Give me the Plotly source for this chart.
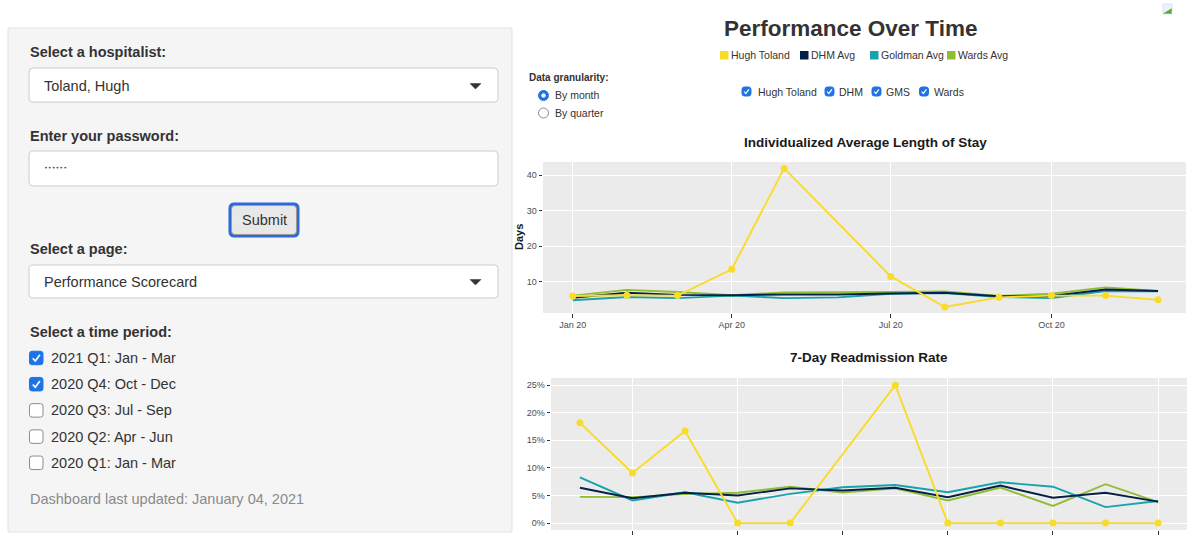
import plotly.graph_objects as go

# ---------------- data ----------------
months = ["2020-01-01", "2020-02-01", "2020-03-01", "2020-04-01", "2020-05-01", "2020-06-01",
          "2020-07-01", "2020-08-01", "2020-09-01", "2020-10-01", "2020-11-01", "2020-12-01"]
month_num = [1, 2, 3, 4, 5, 6, 7, 8, 9, 10, 11, 12]

series_names = ["Hugh Toland", "DHM Avg", "Goldman Avg", "Wards Avg"]
series_colors = ["#F9DB2A", "#052049", "#18A3AC", "#90BD31"]

# Individualized Average Length of Stay (days)
los_toland = [6.0, 6.2, 6.1, 13.5, 41.9, None, 11.5, 2.9, 5.6, 6.1, 6.1, 4.9]
los_dhm = [5.5, 6.9, 6.3, 6.2, 6.4, 6.4, 6.7, 6.9, 5.9, 6.0, 7.8, 7.4]
los_goldman = [4.8, 5.7, 5.4, 6.1, 5.4, 5.6, 6.6, 6.8, 5.7, 5.4, 7.4, 7.3]
los_wards = [6.1, 7.7, 7.1, 6.2, 7.0, 7.0, 7.1, 7.3, 6.0, 6.6, 8.4, 7.4]

# 7-Day Readmission Rate (%)
readm_toland = [18.2, 9.1, 16.7, 0.0, 0.0, None, 25.0, 0.0, 0.0, 0.0, 0.0, 0.0]
readm_dhm = [6.4, 4.5, 5.5, 5.0, 6.3, 5.9, 6.4, 4.7, 6.8, 4.6, 5.5, 3.9]
readm_goldman = [8.3, 4.1, 5.6, 3.7, 5.3, 6.5, 6.9, 5.6, 7.4, 6.6, 2.9, 4.0]
readm_wards = [4.75, 4.7, 5.25, 5.5, 6.6, 5.55, 6.3, 4.1, 6.45, 3.1, 7.05, 3.8]

los_ticks = ["2020-01-01", "2020-04-01", "2020-07-01", "2020-10-01"]
los_ticktext = ["Jan 20", "Apr 20", "Jul 20", "Oct 20"]
los_yticks = [10, 20, 30, 40]
readm_yticks = [0, 5, 10, 15, 20, 25]
readm_yticktext = ["0%", "5%", "10%", "15%", "20%", "25%"]
readm_xticks = [2, 4, 6, 8, 10, 12]

hospitalists = "Toland, Hugh"
page_name = "Performance Scorecard"
periods = ["2021 Q1: Jan - Mar", "2020 Q4: Oct - Dec", "2020 Q3: Jul - Sep",
           "2020 Q2: Apr - Jun", "2020 Q1: Jan - Mar"]
periods_checked = [True, True, False, False, False]
group_boxes = ["Hugh Toland", "DHM", "GMS", "Wards"]

# ---------------- helpers ----------------
W, H = 1200, 540
FONT = "Liberation Sans, Arial, Helvetica, sans-serif"


def px(x):
    return x / W


def py(y):
    return 1 - y / H


shapes = []
annotations = []


def text(x, y, s, size=14, color="#333333", bold=False, anchor="left", font=FONT):
    annotations.append(dict(
        x=px(x), y=py(y), xref="paper", yref="paper", text=("<b>%s</b>" % s) if bold else s,
        showarrow=False, xanchor=anchor, yanchor="middle", borderpad=0,
        font=dict(size=size, color=color, family=font)))


def rrect(x0, y0, x1, y1, r, fill, line, lw=1):
    def P(a, b):
        return "%.5f,%.5f" % (px(a), py(b))
    d = ("M %s L %s Q %s %s L %s Q %s %s L %s Q %s %s L %s Q %s %s Z" % (
        P(x0 + r, y0), P(x1 - r, y0), P(x1, y0), P(x1, y0 + r), P(x1, y1 - r),
        P(x1, y1), P(x1 - r, y1), P(x0 + r, y1), P(x0, y1), P(x0, y1 - r),
        P(x0, y0 + r), P(x0, y0), P(x0 + r, y0)))
    shapes.append(dict(type="path", path=d, xref="paper", yref="paper",
                       fillcolor=fill, line=dict(color=line, width=lw), layer="below"))


def poly(points, fill=None, line="#000", lw=1, closed=False):
    d = "M " + " L ".join("%.5f,%.5f" % (px(a), py(b)) for a, b in points)
    if closed:
        d += " Z"
    shapes.append(dict(type="path", path=d, xref="paper", yref="paper",
                       fillcolor=fill if fill else "rgba(0,0,0,0)",
                       line=dict(color=line, width=lw), layer="above"))


def checkbox(x, y, s, checked):
    if checked:
        rrect(x, y - s / 2, x + s, y + s / 2, 2.5, "#1F73E8", "#1F73E8", 1)
        poly([(x + 0.24 * s, y + 0.02 * s), (x + 0.43 * s, y + 0.22 * s),
              (x + 0.77 * s, y - 0.24 * s)], line="white", lw=max(1.2, s / 8))
    else:
        rrect(x, y - s / 2, x + s, y + s / 2, 2.5, "white", "#8C8C8C", 1)


def circle(cx, cy, r, fill, line, lw=1):
    shapes.append(dict(type="circle", xref="paper", yref="paper",
                       x0=px(cx - r), x1=px(cx + r), y0=py(cy + r), y1=py(cy - r),
                       fillcolor=fill, line=dict(color=line, width=lw), layer="above"))


# ---------------- left control panel ----------------
shapes.append(dict(type="rect", xref="paper", yref="paper", x0=px(8), x1=px(512),
                   y0=py(532), y1=py(28), fillcolor="#F5F5F5",
                   line=dict(color="#E3E3E3", width=1), layer="below"))

text(29, 52, "Select a hospitalist:", 14.5, bold=True)
rrect(29, 68, 498, 102, 4, "white", "#CCCCCC")
text(43, 86, hospitalists, 14.5)
poly([(470, 83.5), (481, 83.5), (475.5, 89)], fill="#333333", line="#333333", lw=0.5, closed=True)

text(29, 136, "Enter your password:", 14.5, bold=True)
rrect(29, 151, 498, 186, 4, "white", "#CCCCCC")
text(43, 168, "••••••", 6.5, color="#555555", font="DejaVu Sans")

rrect(229, 203, 299, 237, 5, "#2C6AD8", "#2C6AD8", 1)
rrect(231.5, 205.5, 296.5, 234.5, 3.5, "#E8E8E8", "#9A9A9A", 1)
text(264, 220, "Submit", 14.5, anchor="center")

text(29, 249, "Select a page:", 14.5, bold=True)
rrect(29, 265, 498, 298, 4, "white", "#CCCCCC")
text(43, 282, page_name, 14.5)
poly([(470, 279.5), (481, 279.5), (475.5, 285)], fill="#333333", line="#333333", lw=0.5, closed=True)

text(29, 332, "Select a time period:", 14.5, bold=True)
for i, (lab, chk) in enumerate(zip(periods, periods_checked)):
    yy = 358 + 26.2 * i
    checkbox(29.5, yy, 13.5, chk)
    text(50, yy, lab, 14.5)

text(29, 499, "Dashboard last updated: January 04, 2021", 14.5, color="#8A8A8A")

# ---------------- right header controls ----------------
text(851, 29, "Performance Over Time", 22.5, bold=True, anchor="center")

legend_sq_x = [720, 800, 870, 947]
for xx, name, col in zip(legend_sq_x, series_names, series_colors):
    shapes.append(dict(type="rect", xref="paper", yref="paper", x0=px(xx), x1=px(xx + 8.5),
                       y0=py(59.5), y1=py(51), fillcolor=col, line=dict(width=0)))
    text(xx + 10, 55.5, name, 10.5, color="#333333")

text(528, 77, "Data granularity:", 10, bold=True)
circle(543.5, 95.5, 5, "#1F73E8", "#1F73E8")
circle(543.5, 95.5, 1.8, "white", "white")
text(554, 95.5, "By month", 10.5)
circle(543.5, 113, 5, "white", "#8C8C8C")
text(554, 113, "By quarter", 10.5)

cb_x = [742, 825, 872, 919.5]
cb_tx = [756.5, 837.5, 884.5, 933]
for xx, tx, lab in zip(cb_x, cb_tx, group_boxes):
    checkbox(xx, 91.5, 9, True)
    text(tx, 91.5, lab, 10.5)

# broken image icon
shapes.append(dict(type="rect", xref="paper", yref="paper", x0=px(1163), x1=px(1172),
                   y0=py(14), y1=py(4), fillcolor="#EAF2FB", line=dict(color="#C9D6E6", width=0.6)))
poly([(1163.5, 13.5), (1171.5, 8.5), (1171.5, 13.5)], fill="#58A83A", line="#58A83A", lw=0.3, closed=True)

# chart titles & axis title
text(865, 142, "Individualized Average Length of Stay", 13.5, color="#1A1A1A", bold=True, anchor="center")
text(869, 357.5, "7-Day Readmission Rate", 13.5, color="#1A1A1A", bold=True, anchor="center")
annotations.append(dict(x=px(519), y=py(237), xref="paper", yref="paper", text="<b>Days</b>",
                        showarrow=False, textangle=-90, xanchor="center", yanchor="middle",
                        font=dict(size=11, color="#1A1A1A", family=FONT)))

# ---------------- charts ----------------
fig = go.Figure()

los_series = [los_wards, los_goldman, los_dhm, los_toland]
readm_series = [readm_wards, readm_goldman, readm_dhm, readm_toland]
order = [3, 2, 1, 0]
for k, idx in enumerate(order):
    col = series_colors[idx]
    is_ind = idx == 0
    fig.add_trace(go.Scatter(
        x=months, y=los_series[k], mode="lines+markers" if is_ind else "lines",
        connectgaps=True, line=dict(color=col, width=1.9),
        marker=dict(size=7, color=col), name=series_names[idx], showlegend=False,
        xaxis="x", yaxis="y"))
    fig.add_trace(go.Scatter(
        x=month_num, y=readm_series[k], mode="lines+markers" if is_ind else "lines",
        connectgaps=True, line=dict(color=col, width=1.9),
        marker=dict(size=7, color=col), name=series_names[idx], showlegend=False,
        xaxis="x2", yaxis="y2"))

axis_common = dict(showline=False, zeroline=False, gridcolor="white", gridwidth=1,
                   ticks="outside", ticklen=3.5, tickwidth=0.8, tickcolor="#333333",
                   tickfont=dict(size=9, color="#4D4D4D", family=FONT))

fig.update_layout(
    width=W, height=H,
    margin=dict(l=0, r=0, t=0, b=0),
    paper_bgcolor="white",
    plot_bgcolor="#EBEBEB",
    showlegend=False,
    font=dict(family=FONT),
    xaxis=dict(domain=[px(543), px(1186)], anchor="y", type="date",
               range=["2019-12-15", "2020-12-17"], tickvals=los_ticks, ticktext=los_ticktext,
               **axis_common),
    yaxis=dict(domain=[py(313), py(162)], anchor="x", range=[1.2, 43.7],
               tickvals=los_yticks, **axis_common),
    xaxis2=dict(domain=[px(551), px(1187)], anchor="y2", range=[0.45, 12.55],
                tickvals=readm_xticks, showticklabels=False, **axis_common),
    yaxis2=dict(domain=[py(530), py(378)], anchor="x2", range=[-1.25, 26.3],
                tickvals=readm_yticks, ticktext=readm_yticktext, **axis_common),
    shapes=shapes,
    annotations=annotations,
)

fig.write_html(
    "out.html",
    config={"displayModeBar": False},
    post_script="document.body.style.margin='0px';document.body.style.padding='0px';"
                "document.documentElement.style.overflow='hidden';",
)
